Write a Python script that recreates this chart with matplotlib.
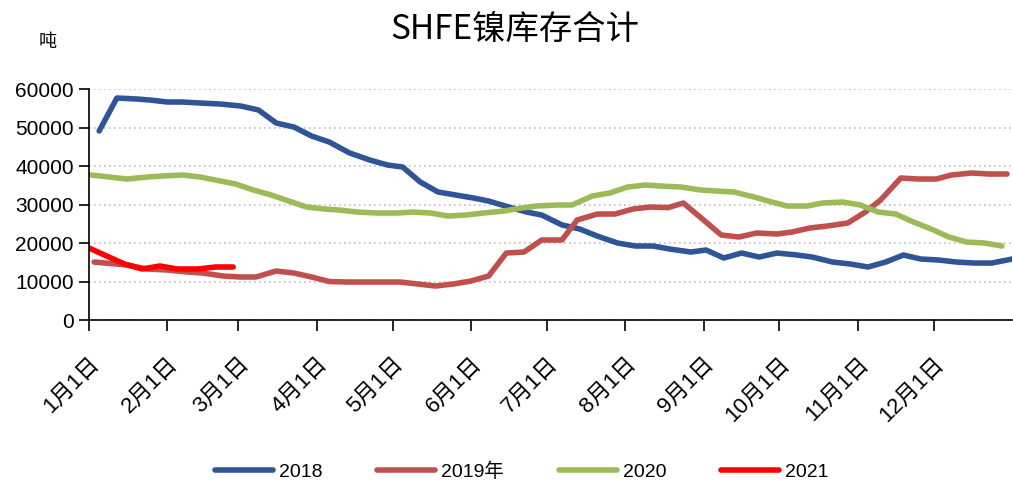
import matplotlib
matplotlib.use("Agg")
import matplotlib.pyplot as plt
import numpy as np

plt.rcParams['font.family'] = ['Liberation Sans', 'Noto Sans CJK SC', 'DejaVu Sans']

# day of year for each weekly reading, and stock in tonnes
d2018 = [4, 11, 19, 24, 31, 37, 44, 52, 60, 67, 74, 81, 88, 95, 103, 111, 118, 124, 131, 138,
         145, 152, 158, 166, 173, 179, 187, 194, 201, 209, 216, 223, 230, 238, 244, 251, 258,
         265, 272, 280, 286, 294, 301, 308, 315, 322, 329, 336, 343, 350, 357, 365]
v2018 = [49100, 57660, 57400, 57140, 56620, 56620, 56360, 56100, 55580, 54550, 51170, 50130,
         47790, 46230, 43400, 41560, 40260, 39740, 35840, 33250, 32470, 31690, 30900, 29350,
         28050, 27270, 24700, 23640, 21800, 20000, 19220, 19220, 18400, 17660, 18180, 16100,
         17400, 16360, 17400, 16880, 16360, 15060, 14550, 13770, 15060, 16880, 15840, 15580,
         15060, 14800, 14800, 15840]

d2019 = [2, 15, 23, 31, 39, 45, 53, 60, 66, 74, 81, 88, 95, 102, 110, 116, 123, 130, 137, 144,
         151, 158, 165, 172, 179, 187, 193, 201, 208, 215, 222, 229, 235, 243, 250, 257, 264,
         272, 278, 285, 292, 300, 307, 313, 321, 328, 335, 341, 349, 356, 363]
v2019 = [15060, 14290, 13250, 12990, 12470, 12200, 11430, 11170, 11170, 12730, 12200, 11170,
         10000, 9870, 9870, 9870, 9870, 9350, 8830, 9350, 10130, 11430, 17400, 17660, 20780,
         20780, 25970, 27530, 27530, 28830, 29350, 29200, 30390, 25970, 22080, 21560, 22600,
         22340, 22860, 23900, 24420, 25190, 28050, 31170, 36880, 36620, 36620, 37660, 38180,
         37920, 37920]

d2020 = [1, 8, 15, 23, 29, 37, 44, 50, 58, 65, 72, 79, 86, 93, 99, 106, 114, 122, 128, 135,
         142, 149, 156, 164, 171, 177, 185, 191, 199, 206, 213, 220, 226, 234, 242, 248, 255,
         263, 270, 276, 284, 290, 298, 305, 312, 319, 326, 333, 340, 347, 354, 361]
v2020 = [37660, 37140, 36620, 37140, 37400, 37660, 37140, 36360, 35320, 33770, 32470, 30910,
         29350, 28830, 28570, 28050, 27790, 27790, 28050, 27790, 27010, 27270, 27790, 28310,
         29090, 29610, 29870, 29870, 32210, 33000, 34550, 35060, 34800, 34550, 33770, 33510,
         33250, 31950, 30650, 29610, 29610, 30390, 30650, 29870, 28050, 27530, 25450, 23640,
         21560, 20260, 20000, 19220]

d2021 = [0, 7, 14, 21, 28, 35, 43, 50, 57]
v2021 = [18700, 16620, 14550, 13250, 14030, 13250, 13250, 13770, 13770]

month_days = [0, 31, 59, 90, 120, 151, 181, 212, 243, 273, 304, 334]
month_labels = [f"{m}月1日" for m in range(1, 13)]

fig = plt.figure(figsize=(10.13, 4.84), dpi=100)
ax = fig.add_axes([0.0879, 0.3388, 0.9112, 0.4773])

lw = 4.0
ax.plot(d2018, v2018, color='#2F5597', lw=lw, label='2018', solid_capstyle='round')
ax.plot(d2019, v2019, color='#C0504D', lw=lw, label='2019年', solid_capstyle='round')
ax.plot(d2020, v2020, color='#9BBB59', lw=lw, label='2020', solid_capstyle='round')
ax.plot(d2021, v2021, color='#FF0000', lw=lw, label='2021', solid_capstyle='round')

ax.set_xlim(0, 365)
ax.set_ylim(0, 60000)
ax.set_yticks(np.arange(0, 60001, 10000))
ax.tick_params(axis='y', labelsize=15, length=7, width=1.2, direction='out', pad=4)
ax.set_xticks(month_days)
ax.set_xticklabels(month_labels, rotation=45, ha='right', va='top', rotation_mode='anchor')
ax.tick_params(axis='x', labelsize=16, length=8, width=1.2, direction='out', pad=16)
for t in ax.get_xticklabels():
    t.set_family(['Liberation Sans', 'Noto Sans CJK SC'])

ax.yaxis.grid(True, linestyle=(0, (1, 2)), color='#BFBFBF', lw=1.2)
ax.set_axisbelow(True)
for s in ['top', 'right']:
    ax.spines[s].set_visible(False)
ax.spines['left'].set_linewidth(1.2)
ax.spines['bottom'].set_linewidth(1.2)

fig.text(0.508, 0.94, 'SHFE镍库存合计', ha='center', va='center', fontsize=24,
         family=['Noto Sans CJK SC'])
fig.text(0.047, 0.913, '吨', ha='center', va='center', fontsize=13,
         family=['Noto Sans CJK SC'])

fig.legend(loc='lower center', bbox_to_anchor=(0.515, -0.03), ncol=4, frameon=False,
           fontsize=14, handlelength=3.0, columnspacing=2.8, handletextpad=0.3)

fig.savefig('out.png', dpi=100)
